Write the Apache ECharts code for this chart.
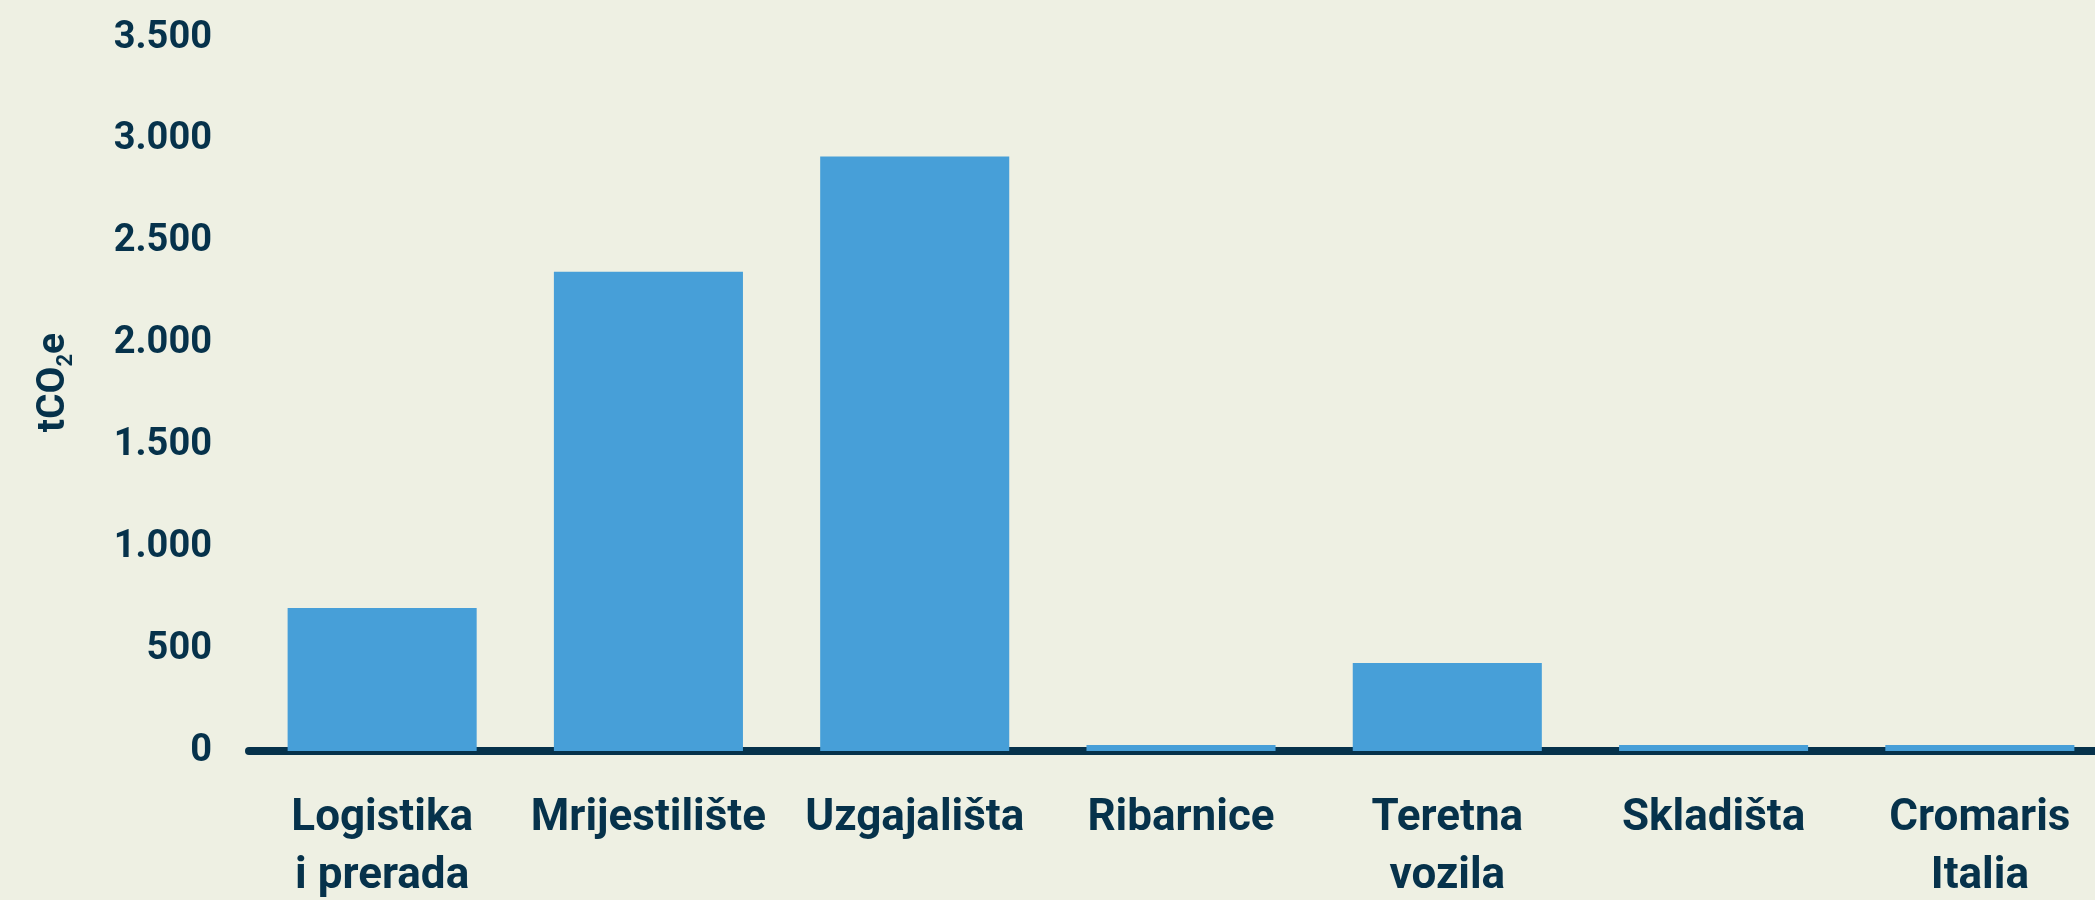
<!DOCTYPE html>
<html>
<head>
<meta charset="utf-8">
<script src="https://cdn.jsdelivr.net/npm/echarts@6/dist/echarts.min.js"></script>
<style>
  html, body { margin: 0; padding: 0; background: #EEF0E3; }
  #chart { width: 2095px; height: 900px; }
</style>
</head>
<body>
<div id="chart"></div>
<script>
// Emisije po lokaciji (tCO2e)
const categories = ['Logistika\ni prerada', 'Mrijestilište', 'Uzgajališta', 'Ribarnice', 'Teretna\nvozila', 'Skladišta', 'Cromaris\nItalia'];
const emissions = [702, 2352, 2918, 30, 432, 30, 30];
const yTicks = [0, 500, 1000, 1500, 2000, 2500, 3000, 3500];

const navy = '#06324B';
const barBlue = '#479FD8';
const fontFamily = 'Roboto, "Noto Sans", sans-serif';

// thousands separator as in Croatian: 3.500
const fmt = v => String(v).replace(/\B(?=(\d{3})+(?!\d))/g, '.');

const chart = echarts.init(document.getElementById('chart'), null, { renderer: 'canvas' });
chart.setOption({
  backgroundColor: '#EEF0E3',
  animation: false,
  // plot area runs past the right edge of the canvas
  grid: {
    left: 249, width: 1864, top: 38, bottom: 149,
    containLabel: false,
    outerBoundsMode: 'none'
  },
  xAxis: {
    type: 'category',
    data: categories,
    offset: 4,
    axisLine: { show: true, lineStyle: { color: navy, width: 8 } },
    axisTick: { show: false },
    axisLabel: {
      color: navy,
      fontFamily,
      fontWeight: 'bold',
      fontSize: 44,
      lineHeight: 58,
      margin: 35,
      interval: 0
    }
  },
  yAxis: {
    type: 'value',
    min: yTicks[0],
    max: yTicks[yTicks.length - 1],
    interval: 500,
    splitLine: { show: false },
    axisLine: { show: false },
    axisTick: { show: false },
    axisLabel: {
      color: navy,
      fontFamily,
      fontWeight: 'bold',
      fontSize: 38,
      margin: 37,
      padding: [10, 0, 0, 0],
      formatter: v => fmt(v)
    },
    name: '{m|tCO}{s|2}{m|e}',
    nameLocation: 'middle',
    nameRotate: 90,
    nameGap: 172,
    nameTextStyle: {
      padding: [0, 0, 0, 24],
      rich: {
        m: { color: navy, fontFamily, fontWeight: 'bold', fontSize: 39 },
        s: { color: navy, fontFamily, fontWeight: 'bold', fontSize: 22, verticalAlign: 'bottom', padding: [24, 0, 0, 0] }
      }
    }
  },
  series: [{
    type: 'bar',
    data: emissions,
    barCategoryGap: '29%',
    itemStyle: { color: barBlue },
    z: 1
  }]
});
</script>
</body>
</html>
